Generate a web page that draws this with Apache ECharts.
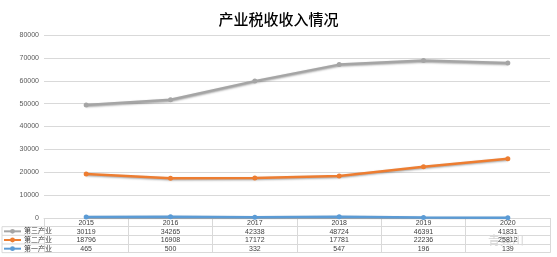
<!DOCTYPE html>
<html><head><meta charset="utf-8">
<script src="https://cdn.jsdelivr.net/npm/echarts@6/dist/echarts.min.js"></script>
<style>html,body{margin:0;padding:0;background:#fff}#c{width:557px;height:257px}</style>
</head><body><div id="c"></div>
<script>
const years = ['2015','2016','2017','2018','2019','2020'];
const tertiary = [30119, 34265, 42338, 48724, 46391, 41831];
const secondary = [18796, 16908, 17172, 17781, 22236, 25812];
const primary = [465, 500, 332, 547, 196, 139];
const names = ['第三产业','第二产业','第一产业'];
const yTicks = {min:0, max:80000, interval:10000};

const chart = echarts.init(document.getElementById('c'));
const F = '"Liberation Sans","Noto Sans CJK SC",sans-serif';
const gridLeft = 44, gridRight = 7, gridTop = 35, gridBottom = 39;
const rowH = 8.67;
const border = '#d9d9d9';
function tableAxis(data, k, showLabel){
  return {type:'category', data:data, gridIndex:0, position:'bottom', offset:rowH*k,
    boundaryGap:true,
    axisLine:{show:true, lineStyle:{color:border, width:1}},
    axisTick:{show:k===0, length:rowH*4, alignWithLabel:false, lineStyle:{color:border}},
    axisLabel:{show:showLabel, margin:1.5, fontSize:7, color:'#404040', fontFamily:F, interval:0},
    splitLine:{show:false}};
}
const shadow = {shadowColor:'rgba(0,0,0,0.35)', shadowBlur:2, shadowOffsetY:1};
const sym = {symbol:'circle', symbolSize:5};
chart.setOption({
  animation:false,
  title:{text:'产业税收收入情况', left:'center', top:7, textStyle:{fontSize:15, fontWeight:500, color:'#000', fontFamily:'"Noto Sans CJK SC",sans-serif'}},
  grid:{left:gridLeft, right:gridRight, top:gridTop, bottom:gridBottom},
  legend:{orient:'vertical', left:3, top:227, padding:0, itemGap:0, itemWidth:17, itemHeight:6,
    data:names, textStyle:{fontSize:7, lineHeight:8.67, height:8.67, color:'#404040', fontFamily:F, padding:[0,0,0,-2]}},
  xAxis:[
    tableAxis(years,0,true),
    tableAxis(tertiary.map(String),1,true),
    tableAxis(secondary.map(String),2,true),
    tableAxis(primary.map(String),3,true),
    tableAxis(years,4,false)
  ],
  yAxis:{type:'value', min:yTicks.min, max:yTicks.max, interval:yTicks.interval,
    axisLine:{show:false}, axisTick:{show:false},
    axisLabel:{fontSize:7, color:'#595959', fontFamily:F, margin:5, formatter:v=>String(v)},
    splitLine:{lineStyle:{color:border, width:1}}},
  series:[
    {name:'第一产业', type:'line', stack:'total', data:primary, ...sym, z:3,
      itemStyle:{color:'#5b9bd5'}, lineStyle:{width:2.5, color:'#5b9bd5', ...shadow}},
    {name:'第二产业', type:'line', stack:'total', data:secondary, ...sym, z:3,
      itemStyle:{color:'#ed7d31'}, lineStyle:{width:2.5, color:'#ed7d31', ...shadow}},
    {name:'第三产业', type:'line', stack:'total', data:tertiary, ...sym, z:3,
      itemStyle:{color:'#a5a5a5'}, lineStyle:{width:2.5, color:'#a5a5a5', ...shadow}}
  ]
});
const yAxis0 = 257 - gridBottom;
const g = [];
for (let k=1;k<=4;k++) g.push({type:'line', shape:{x1:2, y1:yAxis0+rowH*k, x2:gridLeft, y2:yAxis0+rowH*k}, style:{stroke:border, lineWidth:1}});
g.push({type:'line', shape:{x1:2, y1:yAxis0+rowH, x2:2, y2:yAxis0+rowH*4}, style:{stroke:border, lineWidth:1}});
g.push({type:'text', left:488, top:234, style:{text:'青宾川', fontSize:12, fill:'rgba(160,160,160,0.45)', fontFamily:'"Noto Sans CJK SC",sans-serif'}});
chart.setOption({graphic:g});
</script></body></html>
